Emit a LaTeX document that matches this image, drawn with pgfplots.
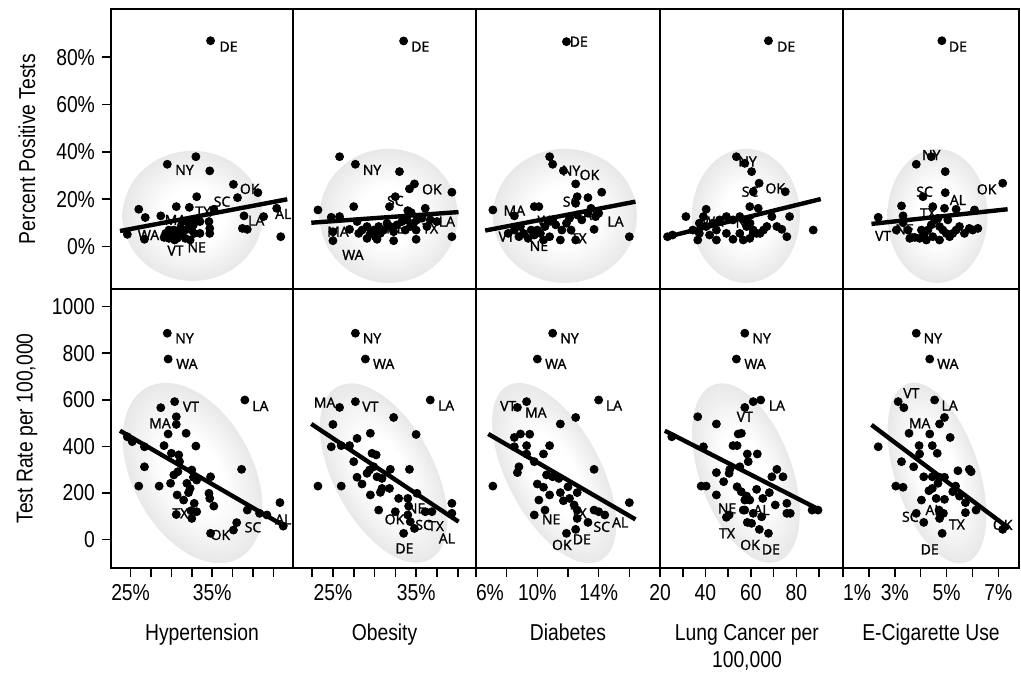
\documentclass[border=0pt]{standalone}
\usepackage{fontspec}
\setmainfont{Liberation Sans}[FakeStretch=0.84]
\newfontfamily\labfont{Open Sans}[BoldFont={Open Sans}, BoldFeatures={FakeBold=1.6}]
\usepackage{pgfplots}
\pgfplotsset{compat=1.18}

% soft grey density ellipse
\pgfdeclareradialshading{ellshade}{\pgfpoint{0bp}{0bp}}{color(0bp)=(white); color(11bp)=(white); color(25bp)=(black!9); color(50bp)=(black!9)}

\tikzset{lab/.style={font=\labfont\bfseries\fontsize{7}{8}\selectfont, inner sep=0pt}}

\pgfplotsset{
  panel/.style={
    scale only axis, anchor=north west,
    axis line style={line width=1.2pt},
    every tick/.style={black, line width=0.8pt},
    tick align=outside, major tick length=4.5pt, minor tick length=4.5pt,
    xtick=\empty, ytick=\empty, xtick pos=bottom, ytick pos=left,
    tick label style={font=\fontsize{11.5}{13}\selectfont},
    every axis y label/.style={at={(axis description cs:-0.462,0.5)}, rotate=90, anchor=center, font=\fontsize{11.5}{13}\selectfont},
    every axis x label/.style={at={(axis description cs:0.5,-0.26)}, anchor=base, align=center, font=\fontsize{11.5}{13.5}\selectfont},
  },
  toprow/.style={height=140pt, ymin=-17.9, ymax=100.4},
  botrow/.style={height=139.5pt, ymin=-123, ymax=1076},
  dots/.style={only marks, mark=*, mark size=2pt, black},
  fit/.style={no marks, black, line width=2.2pt},
}

\begin{document}
\begin{tikzpicture}
\useasboundingbox (-55.5pt,4.5pt) rectangle (455pt,-332.5pt);

% ---------------- top row: percent positive tests ----------------
\begin{axis}[panel, toprow, at={(0pt,0pt)}, width=91pt, xmin=22.6, xmax=44.9,
  ytick={0,20,40,60,80}, yticklabels={0\%,20\%,40\%,60\%,80\%},
  ylabel={Percent Positive Tests}]
\shade[shading=ellshade] (axis cs:32.6,13) ellipse [x radius=35pt, y radius=32.5pt];
\addplot[fit] coordinates {(23.7,6.6) (44.2,20.0)};
\addplot[dots] coordinates {
(34.8,87.0) (29.5,34.8) (33.0,38.0) (34.7,32.0) (37.6,26.3) (38.1,20.7) (40.6,22.8)
(35.2,15.8) (42.9,16.2) (41.3,12.7) (38.9,13.0) (38.7,7.7) (39.3,7.3) (43.4,4.2)
(33.1,21.1) (30.6,16.9) (32.2,16.6) (26.0,15.8) (26.8,12.3) (28.7,13.0) (24.6,5.2)
(26.7,3.1) (29.3,5.6) (29.7,7.0) (30.1,4.2) (30.4,2.8) (30.7,5.6) (31.1,7.7)
(31.3,5.6) (31.7,7.0) (32.1,9.9) (32.5,7.0) (32.7,9.2) (32.9,11.3) (33.5,10.6)
(34.6,10.6) (34.7,7.7) (34.7,5.6) (32.3,2.8) (31.7,3.5) (30.7,3.5) (29.7,3.5)
(29.1,3.9) (30.3,7.0) (31.4,10.6) (33.5,5.6) (32.8,5.6)};
\node[lab] at (axis cs:37.0,84.5) {DE};
\node[lab] at (axis cs:31.6,32.4) {NY};
\node[lab] at (axis cs:39.6,24.4) {OK};
\node[lab] at (axis cs:36.2,19.0) {SC};
\node[lab] at (axis cs:33.9,14.8) {TX};
\node[lab] at (axis cs:30.5,11.3) {MA};
\node[lab] at (axis cs:43.7,13.8) {AL};
\node[lab] at (axis cs:40.4,11.0) {LA};
\node[lab] at (axis cs:27.2,4.9) {WA};
\node[lab] at (axis cs:30.5,-1.7) {VT};
\node[lab] at (axis cs:33.1,-0.3) {NE};
\end{axis}

\begin{axis}[panel, toprow, at={(91pt,0pt)}, width=91.5pt, xmin=20.2, xmax=42.2]
\shade[shading=ellshade] (axis cs:31.7,13) ellipse [x radius=34.5pt, y radius=33.5pt];
\addplot[fit] coordinates {(22.4,10.1) (40.1,14.6)};
\addplot[dots] coordinates {
(33.5,86.9) (25.8,38.0) (27.7,34.8) (33.0,31.7) (34.8,26.5) (39.3,23.0) (34.2,24.4)
(32.5,21.1) (31.8,16.9) (27.5,16.9) (23.2,15.5) (36.1,16.2) (34.0,15.2) (34.4,14.4)
(39.3,4.2) (35.0,7.0) (25.0,6.3) (27.0,7.3) (25.0,2.5) (32.3,2.5) (35.0,3.1)
(24.8,12.4) (25.8,12.7) (27.9,10.6) (28.5,7.0) (29.1,8.5) (29.5,5.6) (29.9,7.0)
(30.1,4.2) (30.5,8.5) (30.7,5.6) (31.1,7.0) (31.5,9.9) (31.9,8.5) (32.3,6.3)
(32.7,9.2) (33.3,10.6) (33.7,7.0) (34.3,8.5) (34.7,9.9) (35.1,11.3) (35.7,12.0)
(36.3,8.5) (36.7,11.3) (37.5,10.6) (29.1,3.5) (30.3,3.1) (28.1,5.6) (33.9,11.3)};
\node[lab] at (axis cs:35.5,84.5) {DE};
\node[lab] at (axis cs:29.7,32.4) {NY};
\node[lab] at (axis cs:36.9,24.2) {OK};
\node[lab] at (axis cs:32.5,19.3) {SC};
\node[lab] at (axis cs:25.6,6.3) {MA};
\node[lab] at (axis cs:32.5,7.7) {NE};
\node[lab] at (axis cs:36.7,7.7) {TX};
\node[lab] at (axis cs:38.7,10.6) {LA};
\node[lab] at (axis cs:27.4,-3.5) {WA};
\end{axis}

\begin{axis}[panel, toprow, at={(182.5pt,0pt)}, width=92pt, xmin=6, xmax=18]
\shade[shading=ellshade] (axis cs:11.8,13) ellipse [x radius=36pt, y radius=33.5pt];
\addplot[fit] coordinates {(6.6,6.8) (16.4,19.0)};
\addplot[dots] coordinates {
(11.9,86.6) (10.8,38.0) (11.0,34.8) (11.7,32.1) (12.5,26.5) (14.2,23.0) (13.3,20.7)
(12.6,21.1) (12.5,18.3) (9.8,16.9) (10.1,16.9) (8.5,13.0) (16.0,4.2) (13.7,7.3)
(13.8,12.7) (11.5,2.8) (12.5,2.8) (7.1,15.5) (8.1,5.6) (8.5,7.0) (8.8,4.2)
(9.1,5.6) (9.4,3.5) (9.8,4.9) (10.0,7.0) (10.2,5.6) (10.5,8.5) (10.7,10.6)
(11.0,11.3) (11.2,9.2) (11.6,7.0) (11.9,9.9) (12.1,12.0) (12.6,13.4) (12.9,11.3)
(13.3,14.1) (13.5,16.2) (14.0,14.1) (8.9,8.5) (10.4,2.8) (10.8,4.2) (9.6,7.0)
(12.2,7.0)};
\node[lab] at (axis cs:12.7,86.6) {DE};
\node[lab] at (axis cs:12.2,32.1) {NY};
\node[lab] at (axis cs:13.4,30.3) {OK};
\node[lab] at (axis cs:12.2,19.0) {SC};
\node[lab] at (axis cs:8.5,15.2) {MA};
\node[lab] at (axis cs:15.1,10.6) {LA};
\node[lab] at (axis cs:13.5,13.4) {AL};
\node[lab] at (axis cs:10.1,0.3) {NE};
\node[lab] at (axis cs:12.7,3.5) {TX};
\node[lab] at (axis cs:8.0,4.2) {VT};
\node[lab] at (axis cs:10.7,11.0) {WA};
\end{axis}

\begin{axis}[panel, toprow, at={(274.5pt,0pt)}, width=91.5pt, xmin=20, xmax=100.5]
\shade[shading=ellshade] (axis cs:57.8,13) ellipse [x radius=27pt, y radius=33.5pt];
\addplot[fit] coordinates {(22.1,3.9) (90.7,20.1)};
\addplot[dots] coordinates {
(23.3,4.2) (25.5,4.9) (36.6,2.8) (40.3,15.8) (39.1,12.7) (44.8,7.0) (44.8,2.8)
(52.1,3.1) (53.6,38.0) (57.3,35.2) (60.3,31.7) (67.7,87.0) (63.6,26.8) (61.0,23.2)
(75.1,23.2) (59.5,16.9) (63.2,16.2) (69.2,12.7) (77.0,12.7) (87.4,7.0) (75.8,4.2)
(71.4,8.5) (73.6,7.3) (67.0,8.5) (64.0,5.6) (65.5,7.0) (59.5,3.5) (56.6,2.8)
(61.0,5.6) (34.4,7.0) (37.3,9.9) (40.3,8.5) (43.2,9.9) (46.2,11.3) (49.2,12.7)
(52.1,11.3) (55.1,12.7) (57.3,11.3) (59.6,9.9) (61.0,7.0) (62.5,5.6) (37.3,5.6)
(41.8,4.9) (49.2,5.6) (55.1,5.6) (58.1,8.5) (31.4,12.7)};
\node[lab] at (axis cs:75.5,84.5) {DE};
\node[lab] at (axis cs:58.5,36.0) {NY};
\node[lab] at (axis cs:59.6,23.2) {SC};
\node[lab] at (axis cs:70.7,24.6) {OK};
\node[lab] at (axis cs:43.2,10.6) {WA};
\node[lab] at (axis cs:57.3,10.1) {NE};
\end{axis}

\begin{axis}[panel, toprow, at={(366pt,0pt)}, width=88pt, xmin=1, xmax=7.8]
\shade[shading=ellshade] (axis cs:4.65,13) ellipse [x radius=25pt, y radius=33.5pt];
\addplot[fit] coordinates {(2.10,9.6) (7.36,15.8)};
\addplot[dots] coordinates {
(4.82,87.0) (3.83,34.8) (4.41,38.0) (4.95,31.7) (7.17,26.8) (4.09,21.1) (4.95,22.8)
(3.26,17.2) (4.47,16.9) (4.92,16.2) (5.37,15.8) (6.08,15.5) (2.36,12.4) (3.32,13.0)
(3.32,10.1) (3.06,7.0) (3.58,3.5) (3.77,3.9) (3.96,3.5) (4.15,5.6) (4.28,7.0)
(4.41,9.2) (4.54,11.3) (4.67,12.0) (4.73,8.5) (4.86,7.0) (4.99,5.6) (5.12,4.2)
(5.24,5.6) (5.37,7.0) (5.50,8.5) (5.69,5.6) (5.88,7.7) (6.01,7.0) (6.21,7.7)
(4.73,2.8) (4.47,4.2) (4.22,2.8) (5.05,11.3) (4.03,7.0) (3.51,7.0)};
\node[lab] at (axis cs:5.44,84.5) {DE};
\node[lab] at (axis cs:4.41,38.7) {NY};
\node[lab] at (axis cs:4.15,23.2) {SC};
\node[lab] at (axis cs:5.44,19.7) {AL};
\node[lab] at (axis cs:6.55,24.2) {OK};
\node[lab] at (axis cs:4.28,14.1) {TX};
\node[lab] at (axis cs:2.55,4.5) {VT};
\node[lab] at (axis cs:3.38,7.3) {NE};
\end{axis}

% ---------------- bottom row: test rate per 100,000 ----------------
\begin{axis}[panel, botrow, at={(0pt,-140pt)}, width=91pt, xmin=22.6, xmax=44.9,
  ytick={0,200,400,600,800,1000}, yticklabels={0,200,400,600,800,1000},
  xtick={25,35}, xticklabels={25\%,35\%}, minor xtick={27.5,30,32.5,37.5,40,42.5},
  ylabel={Test Rate per 100,000}, xlabel={Hypertension}]
\shade[shading=ellshade, transform canvas={rotate around={-62:(axis cs:32.6,285)}}] (axis cs:32.6,285) ellipse [x radius=48.5pt, y radius=30pt];
\addplot[fit] coordinates {(23.7,467) (44.1,52)};
\addplot[dots] coordinates {
(29.5,886) (29.6,775) (30.4,592) (28.7,566) (39.0,599) (30.6,527) (30.6,494)
(29.6,453) (31.8,456) (33.0,401) (29.1,403) (30.0,370) (30.9,363) (24.6,441)
(26.7,398) (26.7,312) (26.0,229) (28.5,229) (29.9,241) (30.3,277) (30.8,291)
(31.0,334) (32.5,298) (32.7,267) (33.1,255) (34.8,269) (32.3,219) (32.1,201)
(30.7,191) (31.5,169) (34.6,198) (34.7,176) (35.2,143) (32.8,155) (33.1,119)
(32.4,123) (32.5,90) (30.6,107) (38.6,301) (39.3,126) (40.8,112) (41.7,105)
(43.3,158) (43.7,57) (38.0,72) (37.6,40) (34.8,26) (25.2,420) (31.9,241)};
\node[lab] at (axis cs:31.6,864) {NY};
\node[lab] at (axis cs:31.9,754) {WA};
\node[lab] at (axis cs:32.4,570) {VT};
\node[lab] at (axis cs:40.9,573) {LA};
\node[lab] at (axis cs:28.6,499) {MA};
\node[lab] at (axis cs:31.1,112) {TX};
\node[lab] at (axis cs:40.0,52) {SC};
\node[lab] at (axis cs:36.0,19) {OK};
\node[lab] at (axis cs:43.7,86) {AL};
\end{axis}

\begin{axis}[panel, botrow, at={(91pt,-140pt)}, width=91.5pt, xmin=20.2, xmax=42.2,
  xtick={25,35}, xticklabels={25\%,35\%}, minor xtick={22.5,27.5,30,32.5,37.5,40},
  xlabel={Obesity}]
\shade[shading=ellshade, transform canvas={rotate around={-62:(axis cs:31.1,285)}}] (axis cs:31.1,285) ellipse [x radius=49pt, y radius=25pt];
\addplot[fit] coordinates {(22.4,496) (40.1,76)};
\addplot[dots] coordinates {
(27.7,886) (28.9,775) (27.7,592) (25.8,567) (36.7,599) (25.0,494) (32.3,524)
(35.0,451) (29.5,456) (27.9,434) (24.8,398) (26.0,403) (27.0,403) (27.5,334)
(29.7,370) (30.2,363) (29.9,312) (29.1,284) (29.4,298) (30.3,269) (30.9,262)
(31.9,301) (34.2,301) (27.9,267) (28.5,238) (23.2,229) (26.0,229) (29.5,191)
(30.7,202) (30.9,219) (31.8,219) (32.9,176) (34.0,176) (35.1,198) (30.5,126)
(32.5,119) (34.1,143) (34.0,105) (34.3,76) (34.8,47) (33.5,26) (36.1,119)
(36.9,119) (39.3,155) (39.3,112)};
\node[lab] at (axis cs:29.7,864) {NY};
\node[lab] at (axis cs:31.1,754) {WA};
\node[lab] at (axis cs:29.5,570) {VT};
\node[lab] at (axis cs:24.0,588) {MA};
\node[lab] at (axis cs:38.6,575) {LA};
\node[lab] at (axis cs:35.0,133) {NE};
\node[lab] at (axis cs:32.4,86) {OK};
\node[lab] at (axis cs:35.9,62) {SC};
\node[lab] at (axis cs:37.4,57) {TX};
\node[lab] at (axis cs:38.7,4) {AL};
\node[lab] at (axis cs:33.6,-39) {DE};
\end{axis}

\begin{axis}[panel, botrow, at={(182.5pt,-140pt)}, width=92pt, xmin=6, xmax=18,
  xtick={6,10,14}, xticklabels={\rlap{6\%},10\%,14\%}, minor xtick={8,12,16},
  xlabel={Diabetes}]
\shade[shading=ellshade, transform canvas={rotate around={-62:(axis cs:11.1,285)}}] (axis cs:11.1,285) ellipse [x radius=49.5pt, y radius=23.3pt];
\addplot[fit] coordinates {(6.8,453) (16.4,86)};
\addplot[dots] coordinates {
(11.0,886) (10.0,775) (8.7,567) (9.3,592) (14.0,599) (12.5,524) (11.5,496)
(8.5,438) (8.9,453) (9.5,452) (8.5,398) (9.3,403) (10.8,403) (10.4,367)
(9.3,367) (9.8,334) (8.8,312) (8.7,287) (10.6,277) (11.0,269) (11.4,262)
(13.7,301) (10.0,238) (10.4,224) (12.0,226) (12.6,201) (11.5,201) (12.1,176)
(11.7,166) (10.8,191) (10.1,169) (12.4,148) (12.6,126) (10.5,126) (9.8,105)
(12.6,90) (13.3,73) (13.7,126) (14.0,119) (14.4,105) (16.0,158) (12.5,43)
(11.9,26) (7.1,229)};
\node[lab] at (axis cs:12.1,864) {NY};
\node[lab] at (axis cs:11.2,754) {WA};
\node[lab] at (axis cs:8.1,573) {VT};
\node[lab] at (axis cs:9.9,545) {MA};
\node[lab] at (axis cs:15.0,575) {LA};
\node[lab] at (axis cs:10.9,86) {NE};
\node[lab] at (axis cs:12.7,112) {TX};
\node[lab] at (axis cs:14.2,54) {SC};
\node[lab] at (axis cs:15.4,73) {AL};
\node[lab] at (axis cs:12.9,0) {DE};
\node[lab] at (axis cs:11.6,-24) {OK};
\end{axis}

\begin{axis}[panel, botrow, at={(274.5pt,-140pt)}, width=91.5pt, xmin=20, xmax=100.5,
  xtick={20,40,60,80}, xticklabels={20,40,60,80}, minor xtick={30,50,70,90},
  xlabel={Lung Cancer per\\100,000},
  every axis x label/.append style={at={(axis description cs:0.475,-0.283)}, anchor=center}]
\shade[shading=ellshade, transform canvas={rotate around={-70:(axis cs:57.8,285)}}] (axis cs:57.8,285) ellipse [x radius=47pt, y radius=23pt];
\addplot[fit] coordinates {(22.1,467) (90.4,126)};
\addplot[dots] coordinates {
(25.2,441) (36.6,527) (44.8,496) (39.1,398) (57.3,886) (53.6,775) (57.3,567)
(61.0,592) (64.3,599) (54.4,453) (52.1,403) (53.9,403) (58.4,367) (50.7,301)
(55.1,312) (44.8,287) (50.4,284) (38.1,229) (40.3,229) (44.8,191) (48.0,248)
(53.9,226) (55.7,205) (57.3,169) (58.4,173) (50.4,105) (49.2,95) (57.3,126)
(58.4,73) (55.8,456) (62.8,367) (58.8,334) (71.4,301) (74.1,269) (69.2,269)
(62.5,215) (68.1,201) (58.1,186) (59.5,169) (65.2,176) (56.6,126) (61.0,112)
(64.7,97) (70.7,148) (75.8,155) (75.8,112) (77.3,112) (86.9,126) (89.5,126)
(60.3,69) (63.7,43) (67.7,26)};
\node[lab] at (axis cs:64.7,864) {NY};
\node[lab] at (axis cs:61.8,754) {WA};
\node[lab] at (axis cs:71.4,575) {LA};
\node[lab] at (axis cs:57.3,527) {VT};
\node[lab] at (axis cs:49.5,133) {NE};
\node[lab] at (axis cs:64.7,126) {AL};
\node[lab] at (axis cs:49.5,26) {TX};
\node[lab] at (axis cs:59.6,-24) {OK};
\node[lab] at (axis cs:68.8,-43) {DE};
\end{axis}

\begin{axis}[panel, botrow, at={(366pt,-140pt)}, width=88pt, xmin=1, xmax=7.8,
  xtick={1,3,5,7}, xticklabels={\rlap{1\%},3\%,5\%,7\%}, minor xtick={2,4,6},
  xlabel={E-Cigarette Use}]
\shade[shading=ellshade, transform canvas={rotate around={-72:(axis cs:4.63,285)}}] (axis cs:4.63,285) ellipse [x radius=47pt, y radius=21pt];
\addplot[fit] coordinates {(2.10,492) (7.42,47)};
\addplot[dots] coordinates {
(3.83,886) (4.35,775) (3.13,592) (3.35,566) (4.54,599) (4.92,524) (4.73,496)
(5.14,438) (3.55,456) (4.35,453) (2.36,398) (3.94,403) (4.45,403) (4.64,370)
(3.96,367) (3.26,334) (3.73,312) (5.44,295) (5.88,301) (5.95,291) (4.12,269)
(4.45,269) (4.73,267) (4.92,267) (3.04,229) (3.32,224) (4.67,241) (4.32,209)
(4.45,219) (5.35,229) (5.24,205) (5.50,186) (4.03,169) (4.60,176) (4.92,172)
(5.73,158) (6.14,126) (5.73,115) (4.71,126) (4.88,112) (4.73,90) (3.83,112)
(4.12,73) (4.83,26) (7.17,43)};
\node[lab] at (axis cs:4.47,864) {NY};
\node[lab] at (axis cs:5.05,754) {WA};
\node[lab] at (axis cs:3.64,628) {VT};
\node[lab] at (axis cs:5.12,575) {LA};
\node[lab] at (axis cs:3.96,499) {MA};
\node[lab] at (axis cs:3.60,97) {SC};
\node[lab] at (axis cs:4.50,126) {AL};
\node[lab] at (axis cs:5.40,64) {TX};
\node[lab] at (axis cs:7.17,62) {OK};
\node[lab] at (axis cs:4.35,-43) {DE};
\end{axis}
\end{tikzpicture}
\end{document}
